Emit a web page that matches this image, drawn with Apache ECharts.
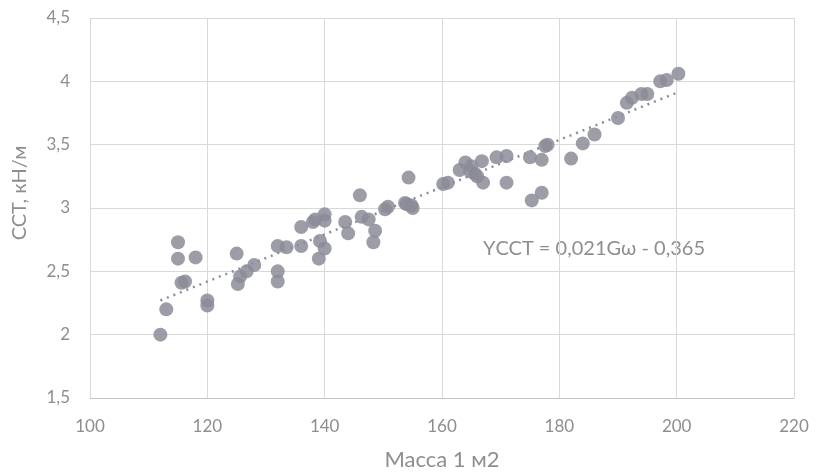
<!DOCTYPE html>
<html><head><meta charset="utf-8">
<script src="https://cdn.jsdelivr.net/npm/echarts@6/dist/echarts.min.js"></script>
<style>html,body{margin:0;padding:0;background:#fff}#c{width:818px;height:476px}</style>
</head><body><div id="c"></div>
<script>
const massX = [112,113,115,115,118,115.6,116.2,120,120,125,125.2,125.6,126.7,128,132,132,132,133.5,136,136,138,138.4,140,140,139.2,140,139,143.5,144,146,146.3,147.5,148.6,148.3,150.3,150.8,153.7,154.8,154.3,154,155,160.2,161,164,164.8,165.6,166.8,167,169.3,171,171,175,177,177.6,178,182,175.3,177,184,186,190,191.5,192.4,194,195,197.2,198.3,200.3,163,165,166];
const sstY = [2.00,2.20,2.73,2.60,2.61,2.41,2.42,2.27,2.23,2.64,2.40,2.46,2.50,2.55,2.50,2.42,2.70,2.69,2.70,2.85,2.89,2.91,2.95,2.90,2.74,2.68,2.60,2.89,2.80,3.10,2.93,2.91,2.82,2.73,2.99,3.01,3.04,3.02,3.24,3.03,3.00,3.19,3.20,3.36,3.29,3.27,3.37,3.20,3.40,3.41,3.20,3.40,3.38,3.49,3.50,3.39,3.06,3.12,3.51,3.58,3.71,3.83,3.87,3.90,3.90,4.00,4.01,4.06,3.30,3.33,3.25];
const trendX = [112, 200];
const trendY = [2.27, 3.91];
const xTicks = [100,120,140,160,180,200,220];
const yTicks = [1.5,2,2.5,3,3.5,4,4.5];
const equationText = 'YССТ = 0,021Gω - 0,365';
const xName = 'Масса 1 м2';
const yName = 'ССТ, кН/м';

const fmt = v => String(v).replace('.', ',');
const chart = echarts.init(document.getElementById('c'));
const font = 'Lato, "Liberation Sans", sans-serif';
const txt = '#8e8e8e';
chart.setOption({
  animation: false,
  grid: {left: 90, right: 24, top: 18, bottom: 76},
  xAxis: {
    type: 'value', min: xTicks[0], max: xTicks[xTicks.length-1], interval: 20,
    name: xName, nameLocation: 'middle', nameGap: 51,
    nameTextStyle: {color: txt, fontSize: 22, fontFamily: font, verticalAlign: 'top'},
    axisLine: {show: true, lineStyle: {color: '#c4c4c4', width: 1}},
    axisTick: {show: false},
    axisLabel: {color: txt, fontSize: 17, fontFamily: font, margin: 20, formatter: fmt},
    splitLine: {show: true, lineStyle: {color: '#d9d9d9', width: 1}}
  },
  yAxis: {
    type: 'value', min: yTicks[0], max: yTicks[yTicks.length-1], interval: 0.5,
    axisLine: {show: false},
    axisTick: {show: false},
    axisLabel: {color: txt, fontSize: 17, fontFamily: font, margin: 20, formatter: fmt},
    splitLine: {show: true, lineStyle: {color: '#d9d9d9', width: 1}}
  },
  series: [
    {
      type: 'scatter', symbol: 'circle', symbolSize: 14,
      itemStyle: {color: '#8b8c98', opacity: 0.85},
      data: massX.map((x, i) => [x, sstY[i]]), z: 3
    },
    {
      type: 'line', symbol: 'none', silent: true,
      lineStyle: {color: '#8a8fa0', width: 2.5, type: [2, 5]},
      data: trendX.map((x, i) => [x, trendY[i]]), z: 4
    }
  ],
  graphic: [
    {
      type: 'text', left: 483, top: 239,
      style: {text: equationText, fill: txt, font: '20px ' + font}
    },
    {
      type: 'text', x: 20, y: 193, rotation: Math.PI / 2,
      style: {text: yName, fill: txt, font: '20px ' + font, align: 'center', verticalAlign: 'middle'}
    }
  ]
});
</script></body></html>
